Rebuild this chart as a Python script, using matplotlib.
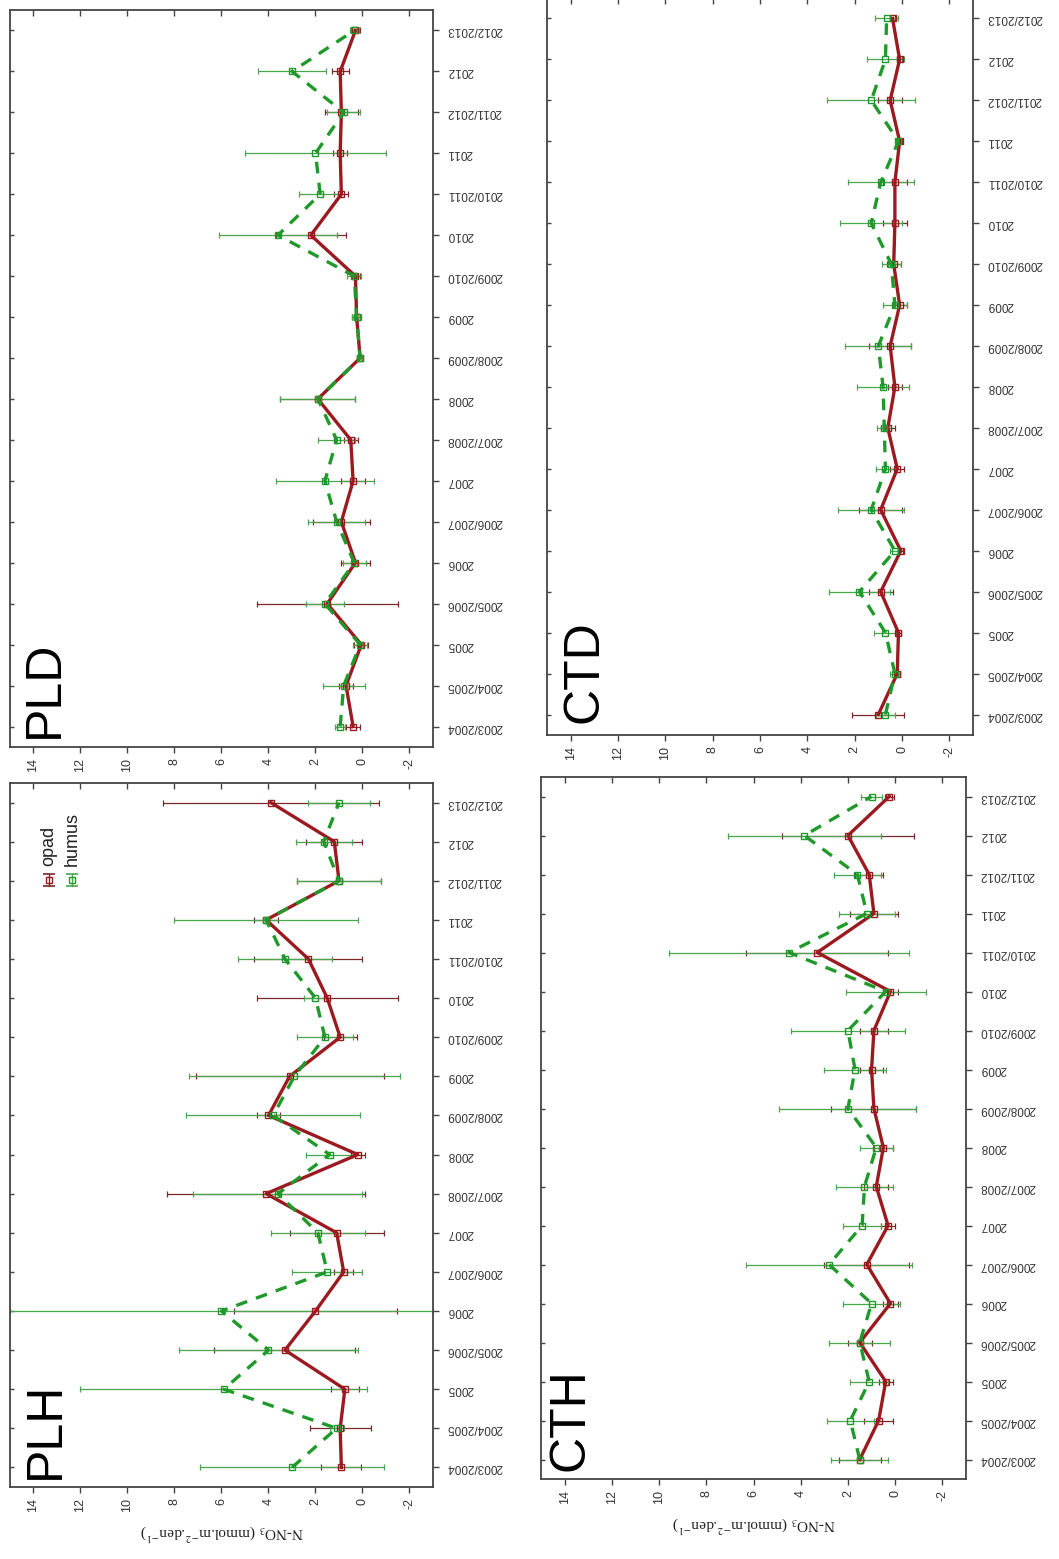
import numpy as np
import matplotlib.pyplot as plt

seasons = ['2003/2004', '2004/2005', '2005', '2005/2006', '2006', '2006/2007', '2007',
           '2007/2008', '2008', '2008/2009', '2009', '2009/2010', '2010', '2010/2011',
           '2011', '2011/2012', '2012', '2012/2013']

# PLH
plh_opad = [0.9, 0.95, 0.75, 3.3, 2.0, 0.8, 1.1, 4.1, 0.2, 4.0, 3.1, 0.95, 1.5, 2.3, 4.1, 1.0, 1.2, 3.9]
plh_opad_err = [0.85, 1.3, 0.6, 3.0, 3.45, 0.4, 2.0, 4.2, 0.3, 0.5, 4.0, 0.7, 3.0, 2.3, 0.5, 1.8, 1.2, 4.6]
plh_humus = [3.0, 1.1, 5.9, 4.0, 6.0, 1.5, 1.9, 3.6, 1.4, 3.8, 2.9, 1.6, 2.0, 3.3, 4.1, 1.0, 1.65, 1.0]
plh_humus_err = [3.9, 0.3, 6.1, 3.8, 9.0, 1.5, 2.0, 3.6, 1.0, 3.7, 4.5, 1.2, 0.5, 2.0, 3.9, 1.8, 1.2, 1.3]

# PLD
pld_opad = [0.4, 0.7, 0.05, 1.5, 0.3, 0.9, 0.4, 0.5, 1.9, 0.1, 0.25, 0.3, 2.2, 0.9, 0.95, 0.9, 0.95, 0.3]
pld_opad_err = [0.3, 0.3, 0.3, 3.0, 0.6, 1.2, 0.5, 0.3, 1.6, 0.1, 0.2, 0.2, 1.5, 0.3, 0.3, 0.7, 0.36, 0.2]
pld_humus = [0.95, 0.8, 0.1, 1.6, 0.35, 1.1, 1.6, 1.1, 1.9, 0.1, 0.25, 0.35, 3.6, 1.8, 2.0, 0.8, 3.0, 0.35]
pld_humus_err = [0.2, 0.9, 0.3, 0.8, 0.5, 1.2, 2.1, 0.8, 1.6, 0.1, 0.2, 0.3, 2.5, 0.9, 3.0, 0.7, 1.45, 0.2]

# CTH
cth_opad = [1.5, 0.7, 0.4, 1.5, 0.2, 1.2, 0.3, 0.8, 0.5, 0.9, 1.0, 0.9, 0.2, 3.3, 0.9, 1.1, 2.0, 0.25]
cth_opad_err = [0.9, 0.6, 0.3, 0.5, 0.3, 1.8, 0.3, 0.5, 0.4, 1.8, 0.5, 0.6, 0.3, 3.0, 1.0, 0.6, 2.8, 0.2]
cth_humus = [1.5, 1.9, 1.1, 1.5, 1.0, 2.8, 1.4, 1.3, 0.8, 2.0, 1.7, 2.0, 0.4, 4.5, 1.2, 1.6, 3.85, 1.0]
cth_humus_err = [1.2, 1.0, 0.8, 1.3, 1.2, 3.5, 0.8, 1.2, 0.7, 2.9, 1.3, 2.4, 1.7, 5.1, 1.2, 1.0, 3.25, 0.45]

# CTD
ctd_opad = [1.0, 0.2, 0.15, 0.9, 0.05, 0.9, 0.2, 0.6, 0.3, 0.5, 0.1, 0.35, 0.3, 0.3, 0.1, 0.5, 0.1, 0.4]
ctd_opad_err = [1.1, 0.1, 0.1, 0.5, 0.1, 0.9, 0.3, 0.3, 0.3, 0.9, 0.3, 0.3, 0.5, 0.5, 0.1, 0.5, 0.1, 0.1]
ctd_humus = [0.7, 0.3, 0.7, 1.8, 0.3, 1.3, 0.7, 0.75, 0.8, 1.0, 0.3, 0.45, 1.3, 0.9, 0.15, 1.3, 0.7, 0.65]
ctd_humus_err = [0.4, 0.2, 0.5, 1.3, 0.2, 1.4, 0.4, 0.3, 1.1, 1.4, 0.5, 0.4, 1.3, 1.4, 0.1, 1.85, 0.8, 0.5]

value_ticks = [14, 12, 10, 8, 6, 4, 2, 0, -2]

RED = '#9a1a1f'
RED_BAR = '#7a2a2a'
GREEN = '#1f9a2a'
GREEN_BAR = '#4aa64f'
SPINE = '#444444'

plt.rcParams['mathtext.fontset'] = 'stix'

fig = plt.figure(figsize=(10.59, 15.59), dpi=100)
W, H = 1059.0, 1559.0


def panel(px_left, px_right, px_top, px_bottom):
    return fig.add_axes([px_left / W, 1 - px_bottom / H, (px_right - px_left) / W, (px_bottom - px_top) / H])


def draw(ax, name, opad, opad_err, humus, humus_err, label_pos, ylabel=False, legend=False):
    y = np.arange(len(seasons))
    ax.errorbar(opad, y, xerr=opad_err, fmt='none', ecolor=RED_BAR, elinewidth=0.9,
                capsize=2.5, capthick=0.9, zorder=2)
    ax.errorbar(humus, y, xerr=humus_err, fmt='none', ecolor=GREEN_BAR, elinewidth=0.9,
                capsize=2.5, capthick=0.9, zorder=2)
    ax.plot(opad, y, color=RED, lw=2.4, marker='s', ms=4.2, mfc='none', mec=RED, mew=1.0, zorder=3)
    ax.plot(humus, y, color=GREEN, lw=2.4, ls=(0, (3.5, 2.8)), marker='s', ms=4.2, mfc='none',
            mec=GREEN, mew=1.0, zorder=4)

    ax.set_xlim(15, -3)
    ax.set_ylim(-0.5, len(seasons) - 0.5)
    ax.set_xticks(value_ticks)
    ax.set_xticklabels([str(v) for v in value_ticks], rotation=90, fontsize=9,
                       family='Liberation Sans', color='#333333')
    ax.set_yticks(y)
    ax.yaxis.tick_right()
    ax.set_yticklabels(seasons, rotation=180, fontsize=8.5, family='Liberation Sans',
                       color='#333333', va='center', ha='left')
    ax.tick_params(axis='x', direction='out', length=4, width=1, color=SPINE, pad=4)
    ax.tick_params(axis='y', direction='out', length=4, width=1, color=SPINE, pad=6)
    for s in ax.spines.values():
        s.set_color(SPINE)
        s.set_linewidth(1.3)

    top = ax.secondary_xaxis('top')
    top.set_xticks(value_ticks)
    top.tick_params(direction='in', length=4, width=1, color=SPINE, labeltop=False)
    top.spines['top'].set_visible(False)
    left = ax.secondary_yaxis('left')
    left.set_yticks(y)
    left.tick_params(direction='in', length=3, width=1, color=SPINE, labelleft=False)
    left.spines['left'].set_visible(False)

    ax.text(label_pos[0], label_pos[1], name, transform=ax.transAxes, rotation=90,
            ha='left', va='bottom', fontsize=36, family='Liberation Sans', color='black')

    if ylabel:
        ax.set_xlabel('N-NO$_3$ (mmol.m$^{-2}$.den$^{-1}$)', rotation=180, fontsize=11,
                      family='Liberation Serif', color='#222222', labelpad=8)

    if legend:
        for (xc, lab, col, bar) in [(0.092, 'opad', RED, RED_BAR), (0.146, 'humus', GREEN, GREEN_BAR)]:
            yc = 0.862
            d = 0.009
            ax.plot([xc, xc], [yc - d, yc + d], color=bar, lw=1, transform=ax.transAxes, clip_on=False)
            ax.plot([xc, xc], [yc - d, yc + d], ls='none', marker='_', ms=9, mew=1.2, color=bar,
                    transform=ax.transAxes, clip_on=False)
            ax.plot([xc], [yc], ls='none', marker='s', ms=4.5, mfc='none', mec=col, mew=1.0,
                    transform=ax.transAxes, clip_on=False)
            ax.text(xc, 0.882, lab, transform=ax.transAxes, rotation=90, ha='center', va='bottom',
                    fontsize=13, family='Liberation Sans', color='#222222')


ax_pld = panel(10, 433, 10, 747)
ax_ctd = panel(547, 973, -2, 735)
ax_plh = panel(10, 433, 783, 1487)
ax_cth = panel(541, 966, 777, 1479)

draw(ax_pld, 'PLD', pld_opad, pld_opad_err, pld_humus, pld_humus_err, (0.028, 0.012))
draw(ax_ctd, 'CTD', ctd_opad, ctd_opad_err, ctd_humus, ctd_humus_err, (0.034, 0.016))
draw(ax_plh, 'PLH', plh_opad, plh_opad_err, plh_humus, plh_humus_err, (0.030, 0.012),
     ylabel=True, legend=True)
draw(ax_cth, 'CTH', cth_opad, cth_opad_err, cth_humus, cth_humus_err, (0.016, 0.012), ylabel=True)

fig.savefig('out.png', dpi=100, facecolor='white')
